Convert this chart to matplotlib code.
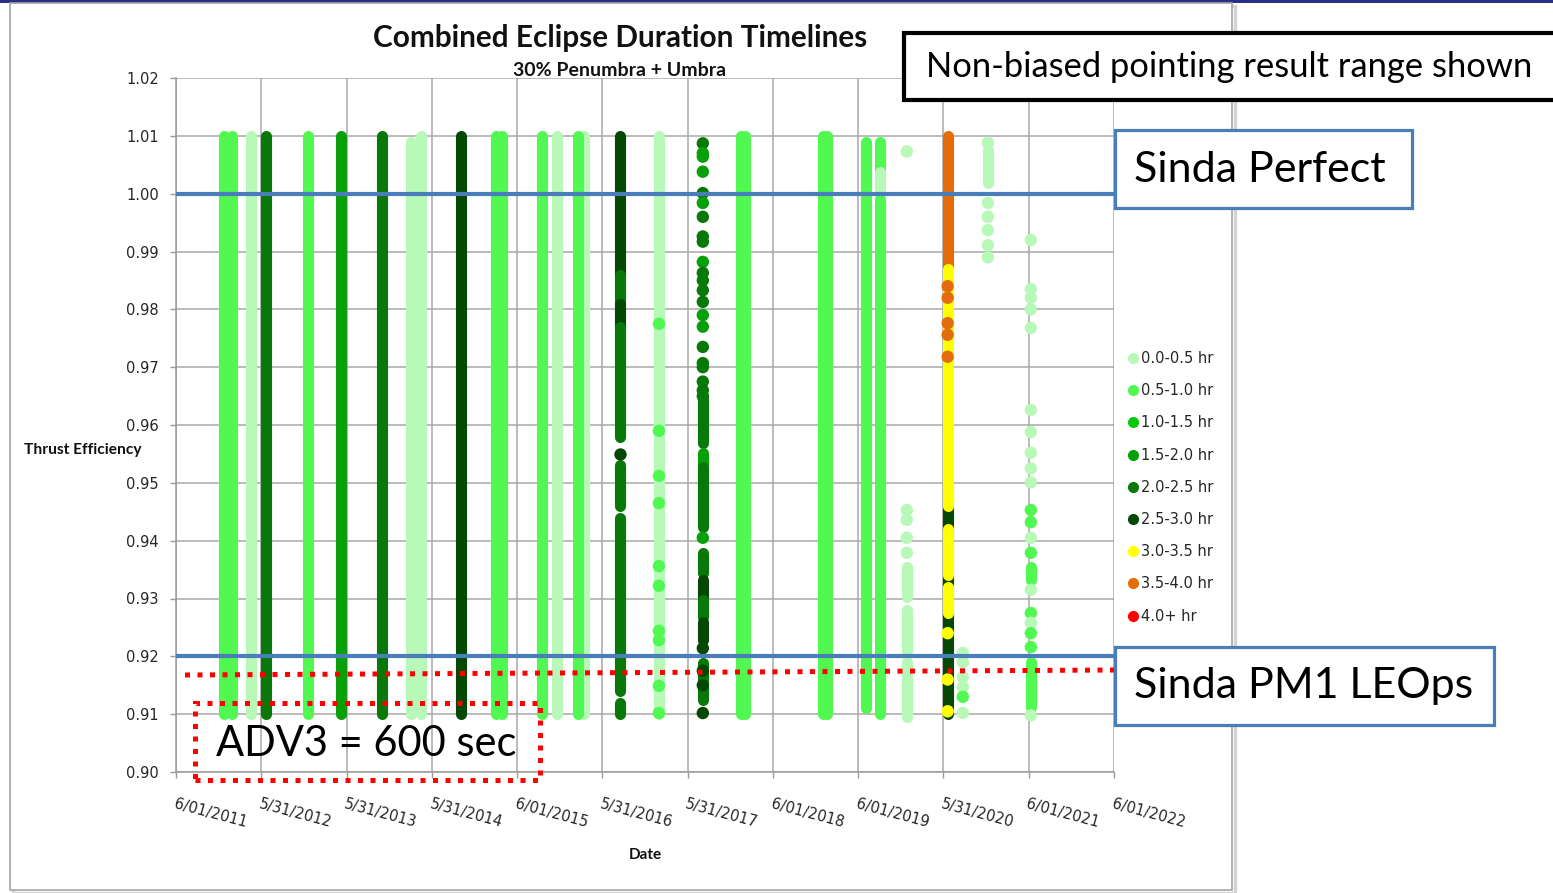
import matplotlib.pyplot as plt
from matplotlib.lines import Line2D
from matplotlib.patches import Rectangle

# --- Eclipse duration bins ---
BIN_LABELS = ['0.0-0.5 hr', '0.5-1.0 hr', '1.0-1.5 hr', '1.5-2.0 hr', '2.0-2.5 hr',
              '2.5-3.0 hr', '3.0-3.5 hr', '3.5-4.0 hr', '4.0+ hr']
BIN_COLORS = ['#B8F8B8', '#52F852', '#0CC80C', '#08A008', '#087808',
              '#044804', '#FFFF00', '#E46C0A', '#FF0000']

# --- x axis: days after 6/01/2011, one tick per 365 days ---
TICK_LABELS = ['6/01/2011', '5/31/2012', '5/31/2013', '5/31/2014', '6/01/2015', '5/31/2016',
               '5/31/2017', '6/01/2018', '6/01/2019', '5/31/2020', '6/01/2021', '6/01/2022']
Y_TICKS = [0.90, 0.91, 0.92, 0.93, 0.94, 0.95, 0.96, 0.97, 0.98, 0.99, 1.00, 1.01, 1.02]

# --- continuous runs of efficiency points (day, top, bottom, bin) ---
run_day = [205, 240, 321, 385, 565, 706, 881, 1006, 1048, 1220, 1369, 1395,
           1566, 1630, 1746, 1720,
           1900, 1900, 1900, 1900, 1900, 1900, 1900,
           2067,
           2255, 2255, 2255, 2255, 2255, 2255, 2255, 2255,
           2418, 2435, 2769, 2786, 2953,
           3012, 3012, 3012,
           3128, 3128, 3128,
           3303, 3303, 3303, 3303, 3303,
           3475, 3659, 3659]
run_top = [1.010, 1.010, 1.010, 1.010, 1.010, 1.010, 1.010, 1.009, 1.010, 1.010, 1.010, 1.010,
           1.010, 1.010, 1.010, 1.010,
           1.010, 0.986, 0.981, 0.977, 0.953, 0.944, 0.912,
           1.010,
           0.9645, 0.9552, 0.9527, 0.9379, 0.9332, 0.9297, 0.9259, 0.9188,
           1.010, 1.010, 1.010, 1.010, 1.009,
           1.009, 1.0037, 0.9990,
           0.9355, 0.9280, 0.9190,
           0.950, 1.010, 0.987, 0.942, 0.932,
           1.0076, 0.9355, 0.9190]
run_bot = [0.910, 0.910, 0.910, 0.910, 0.910, 0.910, 0.910, 0.910, 0.910, 0.910, 0.910, 0.910,
           0.910, 0.910, 0.910, 0.910,
           0.986, 0.981, 0.977, 0.958, 0.946, 0.914, 0.910,
           0.910,
           0.9569, 0.9530, 0.9424, 0.9344, 0.9303, 0.9268, 0.9228, 0.9125,
           0.910, 0.910, 0.910, 0.910, 0.911,
           1.0040, 1.0000, 0.910,
           0.9303, 0.9210, 0.9095,
           0.910, 0.987, 0.946, 0.934, 0.9275,
           1.0018, 0.9332, 0.9112]
run_bin = [1, 1, 0, 4, 1, 3, 4, 0, 0, 5, 1, 1,
           1, 0, 0, 1,
           5, 4, 5, 4, 4, 4, 4,
           0,
           4, 3, 4, 4, 5, 4, 5, 4,
           1, 1, 1, 1, 1,
           1, 0, 1,
           0, 0, 0,
           5, 7, 6, 6, 6,
           0, 1, 1]

# --- isolated efficiency points, column by column ---
day_1900 = 1900
eff_1900 = [0.955]
bin_1900 = [5]

day_2067 = 2067
eff_2067 = [0.9775, 0.9590, 0.9512, 0.9465, 0.9356, 0.9322, 0.9244, 0.9228, 0.9149, 0.9102]
bin_2067 = [1, 1, 1, 1, 1, 1, 1, 1, 1, 1]

day_2255 = 2255
eff_2255 = [1.0087, 1.0070, 1.0064, 1.0038, 1.0001, 0.9984, 0.9960, 0.9926, 0.9917, 0.9882,
            0.9863, 0.9850, 0.9833, 0.9813, 0.9790, 0.9770, 0.9735, 0.9707, 0.9700, 0.9675,
            0.9660, 0.9650, 0.9405, 0.9214, 0.9175, 0.9150, 0.9102]
bin_2255 = [4, 3, 3, 3, 4, 3, 4, 4, 4, 3,
            4, 4, 4, 4, 3, 3, 4, 4, 4, 4,
            4, 4, 3, 5, 5, 5, 5]

day_3128 = 3128
eff_3128 = [1.0073, 0.9453, 0.9436, 0.9405, 0.9379]
bin_3128 = [0, 0, 0, 0, 0]

day_3303 = 3303
eff_3303 = [0.9840, 0.9820, 0.9776, 0.9756, 0.9718, 0.9240, 0.9160, 0.9105]
bin_3303 = [7, 7, 7, 7, 7, 6, 6, 6]

day_3368 = 3368
eff_3368 = [0.9206, 0.9190, 0.9164, 0.9147, 0.9130, 0.9102]
bin_3368 = [0, 0, 0, 0, 1, 0]

day_3475 = 3475
eff_3475 = [1.0088, 0.9984, 0.9960, 0.9937, 0.9911, 0.9890]
bin_3475 = [0, 0, 0, 0, 0, 0]

day_3659 = 3659
eff_3659 = [0.9920, 0.9835, 0.9820, 0.9800, 0.9768, 0.9626, 0.9588, 0.9552, 0.9525, 0.9501,
            0.9453, 0.9432, 0.9405, 0.9379, 0.9315, 0.9275, 0.9258, 0.9240, 0.9216, 0.9098]
bin_3659 = [0, 0, 0, 0, 0, 0, 0, 0, 0, 0,
            1, 1, 0, 1, 0, 1, 0, 1, 1, 0]

W, H = 1553, 893


def fx(px):
    return px / W


def fy(py):
    return 1 - py / H


fig = plt.figure(figsize=(W / 100, H / 100), dpi=100)
fig.patch.set_facecolor('white')

# slide strip and chart frame, kept behind the axes
fig.add_artist(Rectangle((0, fy(3)), 1, 3 / H, transform=fig.transFigure,
                         facecolor='#2B2F86', edgecolor='none', zorder=-3))
fig.add_artist(Rectangle((fx(13), fy(893)), fx(1222), 887 / H, transform=fig.transFigure,
                         facecolor='none', edgecolor='#D4D4D4', lw=2.5, zorder=-3))
fig.add_artist(Rectangle((fx(10), fy(890)), fx(1222), 887 / H, transform=fig.transFigure,
                         facecolor='white', edgecolor='#A6A6A6', lw=1.2, zorder=-2))

ax = fig.add_axes([fx(176), fy(772), fx(1114) - fx(176), fy(78) - fy(772)])
ax.set_facecolor('white')
ax.set_xlim(0, 365 * (len(TICK_LABELS) - 1))
ax.set_ylim(0.90, 1.02)

ax.set_xticks([365 * i for i in range(len(TICK_LABELS))])
ax.set_xticklabels(TICK_LABELS, rotation=-15, ha='left', va='top', rotation_mode='anchor')
ax.set_yticks(Y_TICKS)
ax.set_yticklabels(['%.2f' % v for v in Y_TICKS])
ax.tick_params(axis='both', colors='#9A9A9A', labelcolor='#262626', labelsize=10.5, length=4.3, width=1)
ax.tick_params(axis='x', pad=13)
ax.tick_params(axis='y', pad=8)
ax.grid(True, color='#A8A8A8', lw=1.1, zorder=0)
ax.set_axisbelow(True)
for side in ['top', 'right']:
    ax.spines[side].set_visible(False)
for side in ['left', 'bottom']:
    ax.spines[side].set_color('#9A9A9A')
    ax.spines[side].set_linewidth(1.1)

# dense runs of points as thick rounded strokes
ax.vlines(run_day, run_bot, run_top, colors=[BIN_COLORS[b] for b in run_bin],
          linewidth=8, capstyle='round', zorder=3)

# isolated points
for d, effs, bins in [(day_1900, eff_1900, bin_1900), (day_2067, eff_2067, bin_2067),
                      (day_2255, eff_2255, bin_2255), (day_3128, eff_3128, bin_3128),
                      (day_3303, eff_3303, bin_3303), (day_3368, eff_3368, bin_3368),
                      (day_3475, eff_3475, bin_3475), (day_3659, eff_3659, bin_3659)]:
    ax.scatter([d] * len(effs), effs, c=[BIN_COLORS[b] for b in bins], s=80,
               linewidths=0, zorder=4)

# efficiency reference levels
ax.axhline(1.00, color='#4A7EBB', lw=3, zorder=5)
ax.axhline(0.92, color='#4A7EBB', lw=3, zorder=5)

handles = [Line2D([], [], marker='o', ls='', color=c, markersize=7) for c in BIN_COLORS]
ax.legend(handles, BIN_LABELS, loc='upper left', bbox_to_anchor=(fx(1129), fy(351)),
          bbox_transform=fig.transFigure, frameon=False, fontsize=10.5, handlelength=0.5,
          handletextpad=0.3, labelspacing=1.18, borderpad=0, borderaxespad=0,
          labelcolor='#262626')

fig.text(fx(620), fy(38), 'Combined Eclipse Duration Timelines', ha='center', va='center',
         fontsize=21.4, fontweight='bold', family='Lato', color='#111111')
fig.text(fx(620), fy(70), '30% Penumbra + Umbra', ha='center', va='center',
         fontsize=14, fontweight='bold', family='Lato', color='#111111')
fig.text(fx(83), fy(450), 'Thrust Efficiency', ha='center', va='center',
         fontsize=11.2, fontweight='bold', family='Lato', color='#111111')
fig.text(fx(645), fy(855), 'Date', ha='center', va='center',
         fontsize=11, fontweight='bold', family='Lato', color='#111111')

# slide callouts
dotted = (0, (1, 1.5))
fig.add_artist(Line2D([fx(185), fx(1114)], [fy(675), fy(670)], transform=fig.transFigure,
                      color='#FF0000', lw=3.6, linestyle=dotted, zorder=6))
fig.add_artist(Rectangle((fx(195), fy(780)), fx(540) - fx(195), fy(703) - fy(780),
                         transform=fig.transFigure, facecolor='none', edgecolor='#FF0000',
                         lw=3.6, linestyle=dotted, zorder=6))
fig.text(fx(216), fy(744), 'ADV3 = 600 sec', ha='left', va='center', fontsize=30,
         family='Lato', color='black', zorder=7)

fig.add_artist(Rectangle((fx(904), fy(100)), fx(700), 67 / H, transform=fig.transFigure,
                         facecolor='white', edgecolor='black', lw=3, zorder=6))
fig.text(fx(926), fy(67), 'Non-biased pointing result range shown', ha='left', va='center',
         fontsize=24.8, family='Lato', color='black', zorder=7)

fig.add_artist(Rectangle((fx(1115), fy(208)), fx(297), 78 / H, transform=fig.transFigure,
                         facecolor='white', edgecolor='#4A7EBB', lw=2.3, zorder=6))
fig.text(fx(1134), fy(170), 'Sinda Perfect', ha='left', va='center',
         fontsize=31, family='Lato', color='black', zorder=7)

fig.add_artist(Rectangle((fx(1115), fy(725)), fx(379), 78 / H, transform=fig.transFigure,
                         facecolor='white', edgecolor='#4A7EBB', lw=2.3, zorder=6))
fig.text(fx(1134), fy(686), 'Sinda PM1 LEOps', ha='left', va='center',
         fontsize=31, family='Lato', color='black', zorder=7)

fig.savefig('out.png', dpi=100)
